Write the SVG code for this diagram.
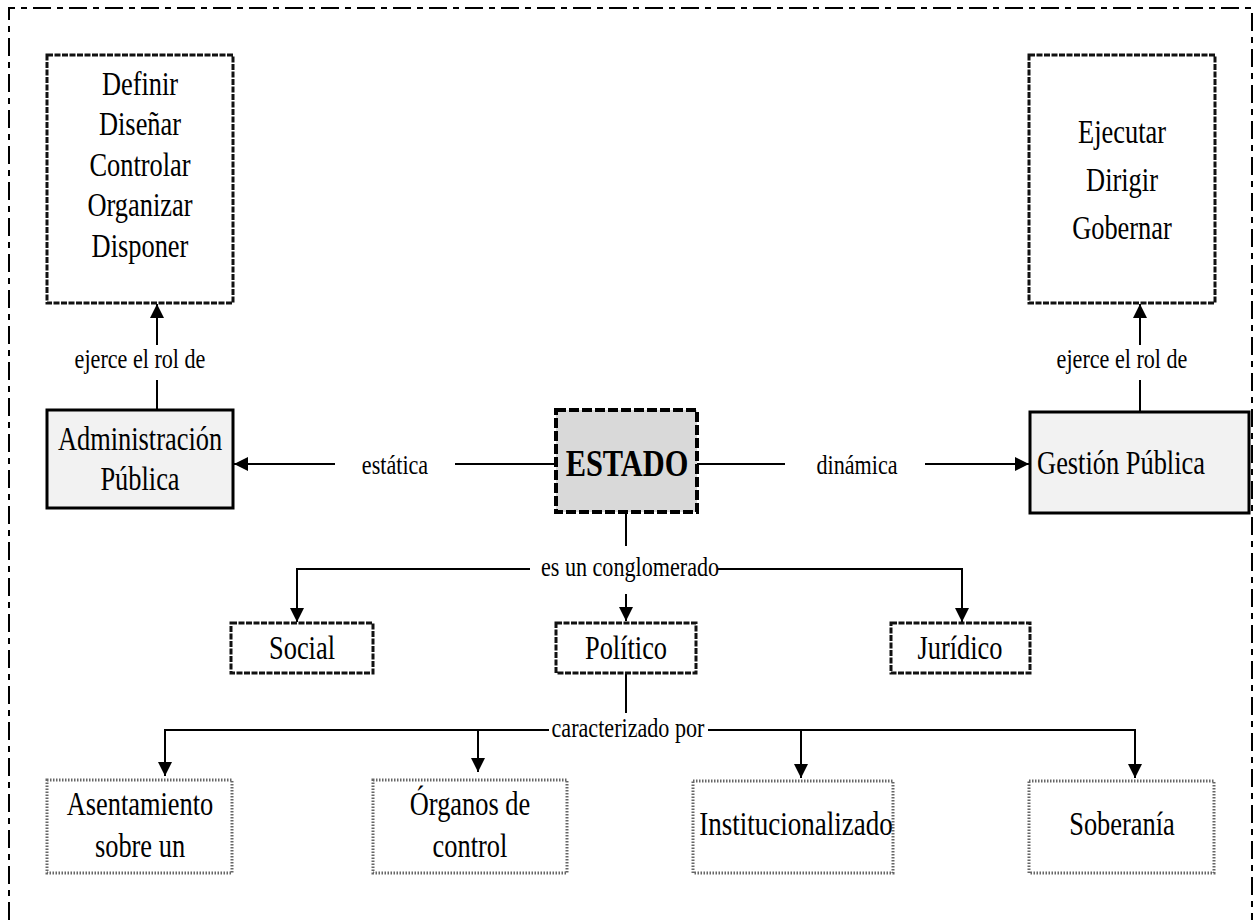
<svg xmlns="http://www.w3.org/2000/svg" width="1256" height="920" viewBox="0 0 1256 920">
<style>
.t{font-family:"Liberation Serif","Times New Roman",serif;font-size:33px;text-anchor:middle;fill:#000}
.l{font-family:"Liberation Serif","Times New Roman",serif;font-size:27px;text-anchor:middle;fill:#000}
.b{font-family:"Liberation Serif","Times New Roman",serif;font-size:38px;font-weight:bold;text-anchor:middle;fill:#000}
.hb{fill:#fff;stroke:#111;stroke-width:3;stroke-dasharray:6 1.5}
.sb{fill:#f2f2f2;stroke:#000;stroke-width:3}
.gb{fill:#fff;stroke:#666;stroke-width:3;stroke-dasharray:1.5 1.5}
.c{fill:none;stroke:#000;stroke-width:2}
</style>
<defs>
<marker id="ah" viewBox="0 0 10 10" refX="10" refY="5" markerWidth="7" markerHeight="7" orient="auto" markerUnits="strokeWidth">
<path d="M0,0 L10,5 L0,10 z" fill="#000"/>
</marker>
</defs>
<path d="M9,920 V8 H1252 V920" fill="none" stroke="#000" stroke-width="2" stroke-dasharray="18 6 6 6"/>

<g id="connectors">
<path class="c" d="M157,345 V304" marker-end="url(#ah)"/>
<path class="c" d="M157,380 V410"/>
<path class="c" d="M1140,345 V304" marker-end="url(#ah)"/>
<path class="c" d="M1140,380 V411"/>
<path class="c" d="M556,464 H455"/>
<path class="c" d="M335,464 H234" marker-end="url(#ah)"/>
<path class="c" d="M697,464 H785"/>
<path class="c" d="M925,464 H1029" marker-end="url(#ah)"/>
<path class="c" d="M626,512 V546"/>
<path class="c" d="M530,569 H297 V622" marker-end="url(#ah)"/>
<path class="c" d="M718,569 H962 V622" marker-end="url(#ah)"/>
<path class="c" d="M626,594 V621" marker-end="url(#ah)"/>
<path class="c" d="M626,673 V713"/>
<path class="c" d="M549,730 H165 V776" marker-end="url(#ah)"/>
<path class="c" d="M478,730 V772" marker-end="url(#ah)"/>
<path class="c" d="M708,730 H1135 V778" marker-end="url(#ah)"/>
<path class="c" d="M801,730 V778" marker-end="url(#ah)"/>
<text class="l" transform="translate(140 368) scale(0.82 1)">ejerce el rol de</text>
<text class="l" transform="translate(1122 368) scale(0.82 1)">ejerce el rol de</text>
<text class="l" transform="translate(395 474) scale(0.82 1)">estática</text>
<text class="l" transform="translate(857 474) scale(0.82 1)">dinámica</text>
<text class="l" transform="translate(630 576) scale(0.82 1)">es un conglomerado</text>
<text class="l" transform="translate(628 737) scale(0.82 1)">caracterizado por</text>
</g>

<g id="roles-admin">
<rect class="hb" x="47" y="55" width="186" height="248"/>
<text class="t" transform="translate(140 95) scale(0.8 1)">Definir</text>
<text class="t" transform="translate(140 135) scale(0.8 1)">Diseñar</text>
<text class="t" transform="translate(140 176) scale(0.8 1)">Controlar</text>
<text class="t" transform="translate(140 216) scale(0.8 1)">Organizar</text>
<text class="t" transform="translate(140 257) scale(0.8 1)">Disponer</text>
</g>

<g id="roles-gestion">
<rect class="hb" x="1029" y="55" width="186" height="248"/>
<text class="t" transform="translate(1122 143) scale(0.8 1)">Ejecutar</text>
<text class="t" transform="translate(1122 191) scale(0.8 1)">Dirigir</text>
<text class="t" transform="translate(1122 239) scale(0.8 1)">Gobernar</text>
</g>

<g id="admin">
<rect class="sb" x="47" y="410" width="186" height="98"/>
<text class="t" transform="translate(140 450) scale(0.8 1)">Administración</text>
<text class="t" transform="translate(140 490) scale(0.8 1)">Pública</text>
</g>

<g id="estado">
<rect x="556" y="410" width="141" height="102" fill="#d9d9d9" stroke="#000" stroke-width="4" stroke-dasharray="10 3"/>
<text class="b" transform="translate(627 476) scale(0.8 1)">ESTADO</text>
</g>

<g id="gestion">
<rect class="sb" x="1030" y="412" width="219" height="101"/>
<text class="t" transform="translate(1121 474) scale(0.8 1)">Gestión Pública</text>
</g>

<g id="social">
<rect class="hb" x="231" y="623" width="142" height="50"/>
<text class="t" transform="translate(302 659) scale(0.8 1)">Social</text>
</g>
<g id="politico">
<rect class="hb" x="556" y="623" width="140" height="50"/>
<text class="t" transform="translate(626 659) scale(0.8 1)">Político</text>
</g>
<g id="juridico">
<rect class="hb" x="891" y="623" width="139" height="50"/>
<text class="t" transform="translate(960 659) scale(0.8 1)">Jurídico</text>
</g>

<g id="asentamiento">
<rect class="gb" x="47" y="780" width="185" height="93"/>
<text class="t" transform="translate(140 815) scale(0.8 1)">Asentamiento</text>
<text class="t" transform="translate(140 857) scale(0.8 1)">sobre un</text>
</g>
<g id="organos">
<rect class="gb" x="373" y="780" width="194" height="93"/>
<text class="t" transform="translate(470 815) scale(0.8 1)">Órganos de</text>
<text class="t" transform="translate(470 857) scale(0.8 1)">control</text>
</g>
<g id="institucionalizado">
<rect class="gb" x="693" y="781" width="200" height="92"/>
<text class="t" transform="translate(796 835) scale(0.82 1)">Institucionalizado</text>
</g>
<g id="soberania">
<rect class="gb" x="1029" y="781" width="185" height="92"/>
<text class="t" transform="translate(1122 835) scale(0.8 1)">Soberanía</text>
</g>
</svg>
